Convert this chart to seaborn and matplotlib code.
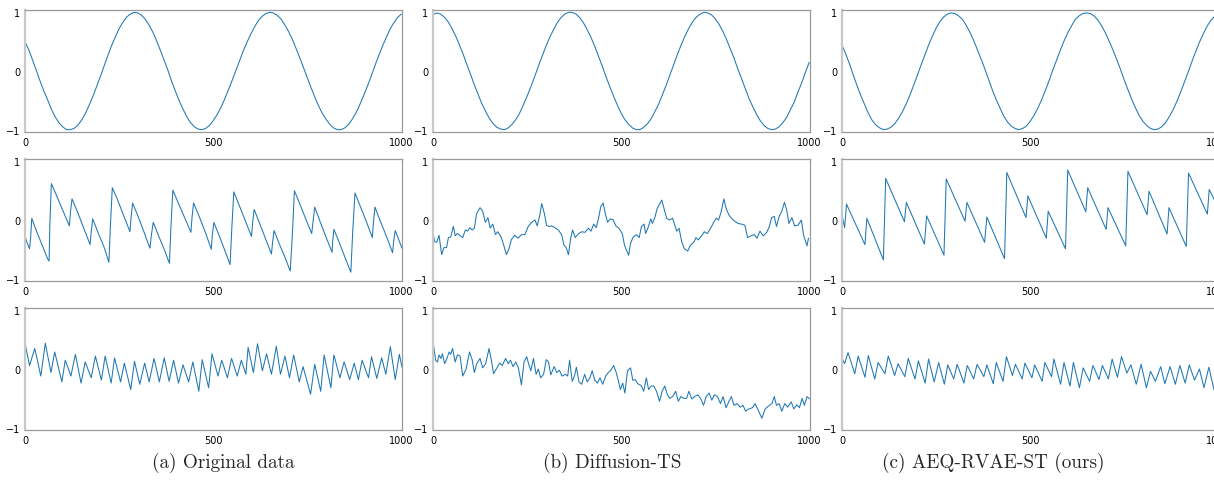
import numpy as np
import pandas as pd
import matplotlib
matplotlib.use("Agg")
import matplotlib.pyplot as plt
import seaborn as sns

sns.set_theme(style="white")
plt.rcParams['font.family'] = ['DejaVu Sans']

# ---------------- data ----------------
time_step10 = np.arange(0, 1001, 10)

# row 1: sine-like series, sampled every 10 steps
a1_vals = [0.50, 0.36, 0.19, 0.01, -0.17, -0.34, -0.49, -0.65, -0.78, -0.88,
           -0.95, -1.00, -1.00, -0.98, -0.93, -0.84, -0.73, -0.59, -0.44, -0.27,
           -0.10, 0.08, 0.26, 0.43, 0.58, 0.72, 0.83, 0.92, 0.97, 1.00,
           0.99, 0.95, 0.88, 0.78, 0.66, 0.51, 0.35, 0.18, 0.01, -0.18,
           -0.35, -0.51, -0.65, -0.78, -0.88, -0.95, -0.99, -1.00, -0.98, -0.93,
           -0.85, -0.75, -0.63, -0.49, -0.33, -0.17, 0.00, 0.17, 0.34, 0.49,
           0.63, 0.75, 0.86, 0.93, 0.98, 1.00, 0.99, 0.95, 0.89, 0.79,
           0.68, 0.55, 0.39, 0.23, 0.06, -0.11, -0.28, -0.44, -0.59, -0.72,
           -0.82, -0.91, -0.97, -1.00, -1.00, -0.97, -0.91, -0.82, -0.71, -0.57,
           -0.42, -0.26, -0.09, 0.09, 0.26, 0.42, 0.57, 0.71, 0.82, 0.91, 0.97]
b1_vals = [0.96, 0.99, 0.97, 0.92, 0.84, 0.73, 0.60, 0.45, 0.29, 0.11,
           -0.06, -0.24, -0.40, -0.56, -0.69, -0.81, -0.90, -0.96, -0.99, -1.00,
           -0.97, -0.91, -0.83, -0.72, -0.58, -0.43, -0.27, -0.10, 0.08, 0.25,
           0.42, 0.57, 0.70, 0.82, 0.91, 0.97, 1.00, 1.00, 0.97, 0.91,
           0.82, 0.70, 0.57, 0.42, 0.25, 0.08, -0.10, -0.27, -0.43, -0.58,
           -0.72, -0.83, -0.91, -0.97, -1.00, -1.00, -0.96, -0.90, -0.81, -0.69,
           -0.56, -0.40, -0.24, -0.06, 0.11, 0.29, 0.45, 0.60, 0.73, 0.84,
           0.92, 0.97, 1.00, 0.99, 0.96, 0.89, 0.80, 0.68, 0.54, 0.38,
           0.22, 0.04, -0.13, -0.30, -0.47, -0.61, -0.74, -0.85, -0.93, -0.98,
           -1.00, -0.99, -0.95, -0.88, -0.79, -0.66, -0.53, -0.36, -0.20, -0.02, 0.15]
c1_vals = [0.44, 0.29, 0.12, -0.07, -0.25, -0.42, -0.57, -0.72, -0.84, -0.92,
           -0.97, -1.00, -0.99, -0.96, -0.90, -0.81, -0.70, -0.57, -0.42, -0.25,
           -0.08, 0.10, 0.27, 0.44, 0.59, 0.73, 0.84, 0.92, 0.97, 0.99,
           0.98, 0.94, 0.88, 0.78, 0.66, 0.52, 0.36, 0.20, 0.03, -0.15,
           -0.33, -0.49, -0.63, -0.77, -0.87, -0.94, -0.98, -1.00, -0.98, -0.94,
           -0.86, -0.76, -0.64, -0.50, -0.34, -0.17, 0.01, 0.18, 0.35, 0.51,
           0.65, 0.77, 0.88, 0.94, 0.98, 0.99, 0.98, 0.94, 0.87, 0.77,
           0.65, 0.51, 0.36, 0.20, 0.03, -0.15, -0.32, -0.48, -0.63, -0.76,
           -0.86, -0.93, -0.98, -1.00, -0.99, -0.95, -0.88, -0.78, -0.66, -0.52,
           -0.36, -0.19, -0.02, 0.16, 0.33, 0.49, 0.63, 0.76, 0.86, 0.93, 0.97]

# row 2: sawtooth-like series, (time, value) vertices
a2_points = [(0, -0.27), (5, -0.38), (12, -0.49), (15, -0.30), (18, 0.03), (30, -0.18),
             (45, -0.42), (60, -0.66), (64, -0.70), (66, -0.10), (70, 0.62), (85, 0.40),
             (100, 0.17), (118, -0.10), (121, 0.15), (125, 0.36), (140, 0.13), (155, -0.12),
             (173, -0.42), (176, -0.20), (180, 0.02), (195, -0.23), (210, -0.46), (223, -0.72),
             (227, -0.10), (232, 0.55), (245, 0.36), (262, 0.08), (279, -0.20), (282, 0.05),
             (286, 0.29), (300, 0.07), (316, -0.20), (332, -0.48), (336, -0.25), (341, -0.04),
             (355, -0.27), (370, -0.50), (384, -0.74), (388, -0.10), (393, 0.51), (410, 0.25),
             (425, 0.03), (441, -0.21), (444, 0.05), (448, 0.29), (463, 0.06), (480, -0.22),
             (495, -0.50), (498, -0.25), (502, -0.04), (515, -0.25), (530, -0.50), (545, -0.76),
             (550, -0.10), (555, 0.48), (570, 0.24), (586, -0.02), (602, -0.28), (605, -0.05),
             (609, 0.18), (625, -0.08), (640, -0.33), (655, -0.58), (658, -0.38), (662, -0.18),
             (676, -0.41), (690, -0.62), (705, -0.87), (711, -0.20), (716, 0.50), (730, 0.28),
             (746, 0.02), (762, -0.23), (766, 0.00), (770, 0.22), (785, -0.04), (800, -0.29),
             (816, -0.55), (818, -0.35), (821, -0.16), (835, -0.38), (850, -0.63), (866, -0.89),
             (871, -0.20), (877, 0.46), (892, 0.22), (908, -0.04), (923, -0.30), (926, -0.05),
             (930, 0.22), (945, -0.03), (962, -0.30), (977, -0.56), (980, -0.36), (984, -0.18),
             (993, -0.33), (1002, -0.48)]
b2_points = [(0, -0.20), (4, -0.37), (10, -0.38), (16, -0.26), (23, -0.59), (29, -0.47),
             (36, -0.47), (41, -0.30), (47, -0.29), (54, -0.11), (59, -0.27), (65, -0.23),
             (71, -0.26), (79, -0.30), (86, -0.17), (92, -0.19), (98, -0.13), (104, -0.17),
             (110, -0.14), (116, 0.11), (125, 0.21), (132, 0.15), (139, -0.04), (146, 0.04),
             (152, -0.14), (159, -0.07), (166, -0.25), (172, -0.20), (181, -0.29), (188, -0.43),
             (195, -0.59), (202, -0.49), (208, -0.34), (217, -0.26), (226, -0.31), (235, -0.25),
             (244, -0.25), (253, -0.11), (262, -0.04), (271, 0.00), (277, -0.10), (284, 0.09),
             (289, 0.28), (296, 0.11), (302, -0.09), (308, -0.11), (315, -0.10), (324, -0.13),
             (333, -0.17), (342, -0.25), (348, -0.43), (354, -0.47), (360, -0.59), (366, -0.31),
             (371, -0.17), (378, -0.30), (387, -0.23), (396, -0.20), (404, -0.21), (413, -0.14),
             (420, -0.19), (427, -0.07), (434, -0.13), (440, 0.03), (446, 0.23), (452, 0.29),
             (458, 0.11), (464, -0.04), (471, 0.02), (479, 0.00), (486, -0.10), (494, -0.14),
             (503, -0.23), (509, -0.43), (514, -0.51), (520, -0.60), (525, -0.40), (532, -0.29),
             (541, -0.25), (548, -0.30), (554, -0.11), (561, -0.07), (565, -0.23), (571, -0.14),
             (579, 0.02), (583, -0.06), (589, 0.03), (596, 0.20), (608, 0.34), (614, 0.20),
             (621, 0.03), (628, 0.00), (637, 0.03), (643, -0.10), (648, -0.19), (654, -0.14),
             (661, -0.37), (668, -0.49), (677, -0.53), (684, -0.43), (693, -0.38), (699, -0.30),
             (705, -0.34), (714, -0.27), (721, -0.20), (729, -0.23), (738, -0.14), (746, -0.04),
             (753, 0.03), (759, 0.00), (766, 0.14), (773, 0.36), (779, 0.20), (786, 0.09),
             (793, 0.03), (802, -0.02), (811, -0.06), (820, -0.07), (829, -0.09), (836, -0.30),
             (845, -0.27), (854, -0.25), (861, -0.31), (869, -0.19), (878, -0.27), (887, -0.21),
             (894, -0.11), (900, 0.04), (907, 0.06), (913, -0.11), (920, 0.06), (927, 0.15),
             (934, 0.30), (940, 0.17), (946, -0.06), (954, 0.04), (961, -0.10), (970, -0.09),
             (979, 0.00), (985, -0.26), (994, -0.44), (998, -0.31)]
c2_points = [(0, 0.08), (7, -0.13), (12, 0.27), (61, -0.42), (66, 0.03), (110, -0.68),
             (116, 0.71), (166, -0.03), (171, 0.30), (219, -0.41), (225, 0.07), (271, -0.60),
             (277, 0.70), (327, -0.02), (332, 0.30), (379, -0.38), (385, 0.05), (432, -0.66),
             (438, 0.81), (489, 0.04), (494, 0.41), (543, -0.31), (548, 0.15), (594, -0.49),
             (600, 0.85), (648, 0.14), (653, 0.55), (702, -0.16), (707, 0.21), (754, -0.44),
             (760, 0.83), (811, 0.09), (816, 0.49), (864, -0.24), (869, 0.21), (915, -0.45),
             (921, 0.80), (971, 0.10), (976, 0.52), (1000, 0.21)]

# row 3: noisy series, (time, value) vertices
a3_points = [(0, 0.44), (12, 0.06), (26, 0.35), (42, -0.12), (54, 0.44), (69, -0.06),
             (79, 0.29), (98, -0.22), (107, 0.15), (122, -0.12), (134, 0.25), (149, -0.24),
             (160, 0.12), (176, -0.15), (187, 0.22), (203, -0.19), (213, 0.22), (229, -0.24),
             (238, 0.19), (254, -0.22), (264, 0.10), (281, -0.35), (291, 0.13), (305, -0.26),
             (318, 0.10), (330, -0.22), (343, 0.18), (357, -0.22), (370, 0.19), (383, -0.21),
             (395, 0.15), (408, -0.24), (420, 0.07), (435, -0.22), (446, 0.12), (462, -0.38),
             (471, 0.16), (488, -0.32), (497, 0.26), (513, -0.12), (523, 0.15), (538, -0.15),
             (549, 0.18), (564, -0.12), (575, 0.15), (587, -0.09), (593, 0.37), (607, -0.06),
             (618, 0.43), (631, -0.03), (642, 0.26), (655, -0.09), (668, 0.39), (679, -0.09),
             (691, 0.22), (703, -0.15), (714, 0.24), (729, -0.22), (739, 0.04), (759, -0.43),
             (770, 0.08), (786, -0.38), (795, 0.24), (813, -0.32), (821, 0.24), (837, -0.15),
             (848, 0.12), (863, -0.18), (875, 0.10), (886, -0.18), (896, 0.15), (913, -0.15),
             (921, 0.21), (935, -0.16), (948, 0.19), (959, -0.09), (971, 0.38), (984, -0.18),
             (995, 0.25), (1002, 0.03)]
b3_points = [(0, 0.47), (7, 0.15), (12, 0.12), (16, 0.24), (21, 0.18), (25, 0.26), (31, 0.09),
             (37, 0.18), (43, 0.29), (47, 0.25), (52, 0.35), (59, 0.12), (65, 0.24), (72, 0.22),
             (79, -0.12), (88, 0.00), (97, 0.29), (104, 0.16), (110, -0.06), (116, 0.09),
             (125, 0.18), (132, 0.02), (140, 0.09), (149, 0.35), (155, 0.15), (161, -0.08),
             (168, 0.00), (177, 0.10), (184, 0.06), (193, 0.18), (200, 0.09), (206, 0.15),
             (213, 0.04), (220, 0.12), (227, 0.02), (235, -0.27), (242, 0.12), (249, 0.21),
             (254, 0.09), (260, -0.03), (267, 0.18), (274, -0.09), (280, 0.00), (286, -0.15),
             (294, -0.09), (301, 0.16), (307, 0.12), (313, -0.10), (322, 0.04), (329, -0.06),
             (336, -0.02), (343, -0.12), (352, -0.09), (358, -0.12), (363, 0.15), (370, -0.21),
             (376, -0.12), (381, 0.03), (388, -0.22), (395, -0.26), (403, -0.09), (410, -0.22),
             (417, -0.15), (423, -0.03), (430, -0.19), (437, -0.24), (444, -0.15), (451, -0.26),
             (459, -0.12), (466, -0.06), (473, -0.02), (480, 0.06), (487, -0.06), (493, -0.21),
             (498, -0.35), (504, -0.24), (510, -0.41), (517, -0.03), (525, 0.02), (531, -0.19),
             (537, -0.18), (544, -0.25), (553, -0.28), (560, -0.38), (567, -0.15), (573, -0.35),
             (580, -0.29), (587, -0.29), (594, -0.38), (602, -0.55), (609, -0.38), (616, -0.29),
             (623, -0.44), (629, -0.50), (637, -0.47), (645, -0.38), (652, -0.55), (659, -0.47),
             (666, -0.50), (674, -0.50), (680, -0.38), (688, -0.51), (695, -0.47), (704, -0.44),
             (711, -0.50), (719, -0.62), (726, -0.47), (734, -0.41), (741, -0.53), (748, -0.44),
             (756, -0.47), (764, -0.59), (771, -0.47), (779, -0.66), (786, -0.56), (793, -0.47),
             (800, -0.62), (808, -0.59), (816, -0.65), (824, -0.62), (831, -0.72), (840, -0.68),
             (849, -0.66), (856, -0.59), (865, -0.71), (874, -0.84), (883, -0.68), (892, -0.63),
             (901, -0.59), (907, -0.47), (913, -0.62), (920, -0.59), (927, -0.72), (935, -0.59),
             (943, -0.65), (952, -0.56), (959, -0.68), (967, -0.61), (974, -0.66), (981, -0.50),
             (987, -0.62), (994, -0.47), (1001, -0.51)]
c3_points = [(0, 0.18), (7, 0.09), (16, 0.28), (34, -0.08), (43, 0.22), (61, -0.14), (70, 0.23),
             (87, -0.17), (96, 0.11), (114, -0.08), (123, 0.22), (140, -0.11), (149, 0.09),
             (167, -0.13), (176, 0.18), (194, -0.17), (203, 0.14), (221, -0.24), (230, 0.17),
             (245, -0.22), (257, 0.11), (272, -0.26), (281, 0.07), (297, -0.17), (306, 0.08),
             (324, -0.24), (333, 0.06), (350, -0.17), (359, 0.08), (377, -0.13), (385, 0.07),
             (402, -0.25), (410, 0.11), (428, -0.21), (437, 0.21), (453, -0.11), (461, 0.08),
             (479, -0.17), (486, 0.10), (505, -0.15), (512, 0.07), (532, -0.21), (539, 0.11),
             (557, -0.13), (563, 0.17), (581, -0.26), (590, 0.11), (606, -0.29), (615, 0.11),
             (631, -0.32), (641, 0.02), (658, -0.21), (667, 0.06), (683, -0.18), (692, 0.06),
             (708, -0.17), (718, 0.17), (732, -0.14), (743, 0.21), (757, -0.07), (768, 0.07),
             (782, -0.26), (795, 0.08), (809, -0.32), (820, -0.04), (833, -0.21), (847, 0.04),
             (858, -0.25), (872, 0.04), (886, -0.26), (898, 0.06), (912, -0.24), (923, 0.07),
             (937, -0.19), (950, 0.00), (962, -0.32), (975, 0.03), (989, -0.36), (1000, 0.00)]

captions = ["(a) Original data", "(b) Diffusion-TS", "(c) AEQ-RVAE-ST (ours)"]
x_ticks = [0, 500, 1000]
y_ticks = [-1, 0, 1]

# ---------------- build figure ----------------
def pts(p):
    return [q[0] for q in p], [q[1] for q in p]

series = [
    [(time_step10, a1_vals), pts(a2_points), pts(a3_points)],
    [(time_step10, b1_vals), pts(b2_points), pts(b3_points)],
    [(time_step10, c1_vals), pts(c2_points), pts(c3_points)],
]

W, H = 1214, 489
fig = plt.figure(figsize=(W / 100, H / 100), dpi=100)
col_left = [25, 433, 842]
col_w = 377
row_top = [11, 160, 309]
row_h = 122
cap_x = [223, 612, 993]
line_color = '#1f77b4'

for c in range(3):
    for r in range(3):
        ax = fig.add_axes([col_left[c] / W, 1 - (row_top[r] + row_h) / H,
                           col_w / W, row_h / H])
        xs, ys = series[c][r]
        df = pd.DataFrame({'t': np.asarray(xs, float), 'v': np.asarray(ys, float)})
        sns.lineplot(data=df, x='t', y='v', ax=ax, color=line_color,
                     linewidth=0.75, estimator=None, sort=False)
        ax.set_xlim(0, 1002)
        ax.set_ylim(-1.04, 1.04)
        ax.set_xticks(x_ticks)
        ax.set_yticks(y_ticks)
        ax.set_xlabel('')
        ax.set_ylabel('')
        ax.tick_params(labelsize=7, length=2, width=0.6, pad=1.5,
                       color='#777777', labelcolor='black')
        for name, s in ax.spines.items():
            if name == 'left':
                s.set_color('#c8c8c8')
                s.set_linewidth(1.6)
            else:
                s.set_color('#999999')
                s.set_linewidth(0.9)
    fig.text(cap_x[c] / W, 1 - 463 / H, captions[c], family='cmr10',
             fontsize=13.8, ha='center', va='center')

fig.savefig('out.png', dpi=100)
